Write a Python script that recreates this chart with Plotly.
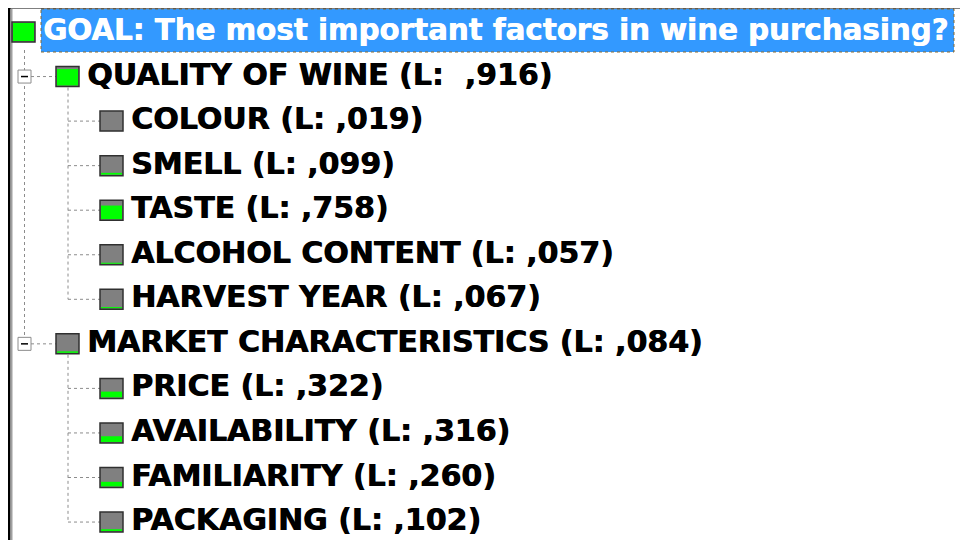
import plotly.graph_objects as go

# ---- data ----
names = ["GOAL: The most important factors in wine purchasing?",
         "QUALITY OF WINE", "COLOUR", "SMELL", "TASTE", "ALCOHOL CONTENT", "HARVEST YEAR",
         "MARKET CHARACTERISTICS", "PRICE", "AVAILABILITY", "FAMILIARITY", "PACKAGING"]
levels = [0, 1, 2, 2, 2, 2, 2, 1, 2, 2, 2, 2]
local_labels = [None, "\u00a0,916", ",019", ",099", ",758", ",057", ",067",
                ",084", ",322", ",316", ",260", ",102"]
local_weights = [1.0, 0.916, 0.019, 0.099, 0.758, 0.057, 0.067,
                 0.084, 0.322, 0.316, 0.260, 0.102]

# ---- layout constants ----
W, H = 968, 540
OFF = 8  # page body margin compensation
ROW0, STEP = 32, 44.55
ICON_W, ICON_H = 23, 20
GREEN, GRAY, DOT = "#00ff00", "#808080", "#8c8c8c"

def row_y(i):
    return ROW0 + STEP * i

def icon_left(level):
    return 12 + 44 * level

shapes = []
annotations = []

# frame borders
shapes.append(dict(type="line", x0=8, x1=W + OFF, y0=7.5, y1=7.5, line=dict(color="black", width=2)))
shapes.append(dict(type="line", x0=9, x1=9, y0=7, y1=H + OFF, line=dict(color="black", width=3)))
shapes.append(dict(type="line", x0=11.5, x1=11.5, y0=9, y1=H + OFF, line=dict(color="#a0a0a0", width=2)))

# small descender of caption above (cut off)
shapes.append(dict(type="line", x0=500, x1=500, y0=0, y1=5, line=dict(color="black", width=1.5)))
shapes.append(dict(type="line", x0=496.5, x1=503.5, y0=5, y1=5, line=dict(color="black", width=1)))

# goal highlight
shapes.append(dict(type="rect", x0=41, x1=954, y0=9, y1=52, fillcolor="#3399ff",
                   line=dict(color="#8a6a30", width=1, dash="dot"), layer="below"))

# tree connector lines
lvl1_rows = [i for i, l in enumerate(levels) if l == 1]
shapes.append(dict(type="line", x0=24.5, x1=24.5, y0=50, y1=row_y(lvl1_rows[-1]) - 6,
                   line=dict(color=DOT, width=1, dash="dot")))
for gi, r in enumerate(lvl1_rows):
    y = row_y(r)
    shapes.append(dict(type="line", x0=31, x1=icon_left(1), y0=y, y1=y,
                       line=dict(color=DOT, width=1, dash="dot")))
    end = lvl1_rows[gi + 1] if gi + 1 < len(lvl1_rows) else len(levels)
    kids = list(range(r + 1, end))
    shapes.append(dict(type="line", x0=68, x1=68, y0=y + 11, y1=row_y(kids[-1]),
                       line=dict(color=DOT, width=1, dash="dot")))
    for k in kids:
        yk = row_y(k)
        shapes.append(dict(type="line", x0=68, x1=icon_left(2), y0=yk, y1=yk,
                           line=dict(color=DOT, width=1, dash="dot")))
    shapes.append(dict(type="rect", x0=18, x1=31, y0=y - 6.5, y1=y + 6.5, fillcolor="white",
                       line=dict(color="#8c8c8c", width=1)))
    shapes.append(dict(type="line", x0=21, x1=28, y0=y, y1=y, line=dict(color="black", width=1.5)))

# icons and labels
for i, (name, lvl, lab, w) in enumerate(zip(names, levels, local_labels, local_weights)):
    y = row_y(i)
    x0 = icon_left(lvl)
    top, bot = y - ICON_H / 2, y + ICON_H / 2
    shapes.append(dict(type="rect", x0=x0, x1=x0 + ICON_W, y0=top, y1=bot,
                       fillcolor=GRAY, line=dict(width=0)))
    gh = (ICON_H - 2) * w
    if gh > 0.5:
        shapes.append(dict(type="rect", x0=x0 + 1, x1=x0 + ICON_W - 1, y0=bot - 1 - gh, y1=bot - 1,
                           fillcolor=GREEN, line=dict(width=0)))
    shapes.append(dict(type="rect", x0=x0, x1=x0 + ICON_W, y0=top, y1=bot,
                       fillcolor="rgba(0,0,0,0)", line=dict(color="#303030", width=1.5)))
    if lvl == 0:
        text, color, size = name, "white", 29.3
    else:
        text, color, size = f"{name} (L: {lab})", "black", 30
    annotations.append(dict(x=x0 + 28.5, y=y - 2.5, xref="x", yref="y", text=text,
                            xanchor="left", yanchor="middle", showarrow=False,
                            font=dict(family="DejaVu Sans", size=size, color=color, weight="bold",
                                      shadow=f"0.7px 0px 0px {color}")))

fig = go.Figure()
fig.add_trace(go.Scatter(x=[0], y=[0], mode="markers", marker=dict(opacity=0), hoverinfo="skip"))
fig.update_layout(
    width=W, height=H, margin=dict(l=0, r=0, t=0, b=0),
    paper_bgcolor="white", plot_bgcolor="white", showlegend=False,
    xaxis=dict(range=[OFF, W + OFF], visible=False, fixedrange=True),
    yaxis=dict(range=[H + OFF, OFF], visible=False, fixedrange=True),
    shapes=shapes, annotations=annotations,
)
fig.write_html("out.html")
